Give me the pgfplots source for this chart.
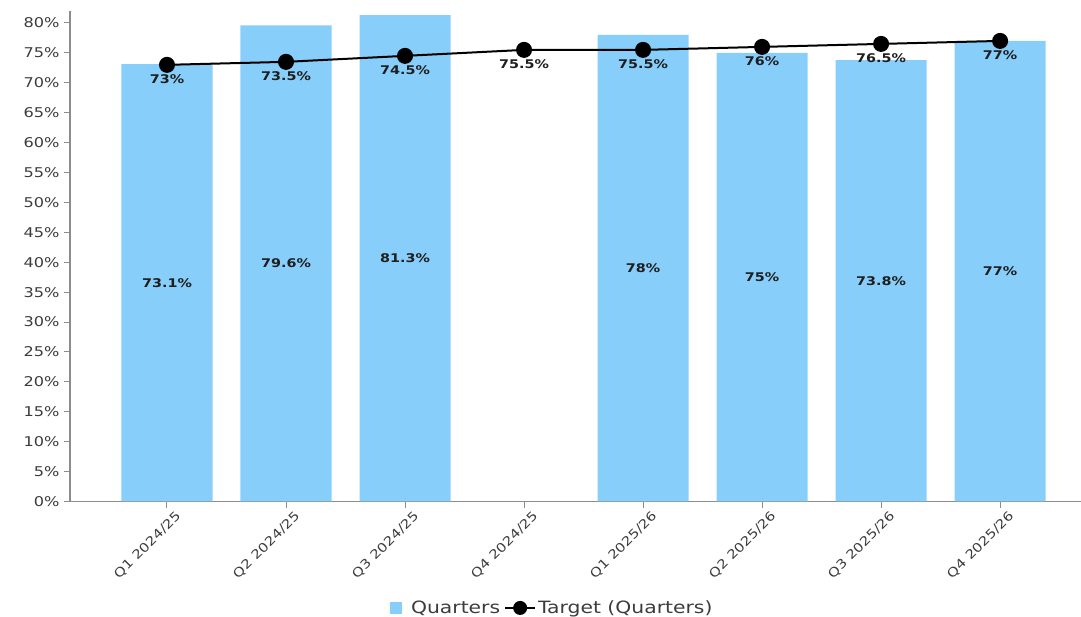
\documentclass[border=0pt]{standalone}
\usepackage{fontspec}
\setmainfont{DejaVu Sans}[FakeStretch=1.2]
\usepackage{pgfplots}
\pgfplotsset{compat=1.18}
\usepackage{pgfplotstable}
\definecolor{barblue}{HTML}{87CEFA}
\definecolor{axisgray}{HTML}{8C8C8C}
\definecolor{ticktext}{HTML}{3C3C3C}
\definecolor{labtext}{HTML}{1E1E1E}

\pgfplotstableread{
x bar half
0 73.1 36.55
1 79.6 39.8
2 81.3 40.65
4 78 39
5 75 37.5
6 73.8 36.9
7 77 38.5
}\bartable

\pgfplotstableread{
x target
0 73
1 73.5
2 74.5
3 75.5
4 75.5
5 76
6 76.5
7 77
}\targettable

\begin{document}
\begin{tikzpicture}
\path[use as bounding box] (0,0) rectangle (1081bp,617bp);
\begin{axis}[
  at={(70bp,115.5bp)}, anchor=south west,
  scale only axis, width=1011bp, height=490.5bp,
  xmin=-0.815, xmax=7.68, ymin=0, ymax=82,
  axis x line*=bottom, axis y line*=left,
  axis line style={draw=axisgray, line width=1.2bp},
  tick style={draw=axisgray, line width=1bp},
  tick align=outside,
  major tick length=6bp,
  /pgf/number format/assume math mode=true,
  ytick={0,5,...,80},
  yticklabel={\pgfmathprintnumber{\tick}\%},
  yticklabel style={font=\fontsize{13.5}{15}\selectfont, text=ticktext, xshift=-1bp},
  xtick={0,...,7},
  xticklabels={Q1 2024/25,Q2 2024/25,Q3 2024/25,Q4 2024/25,Q1 2025/26,Q2 2025/26,Q3 2025/26,Q4 2025/26},
  xticklabel style={font=\fontsize{12.5}{14}\selectfont, text=ticktext, rotate=45, anchor=north east, xshift=7bp, yshift=-4bp},
  legend style={at={(0.477,-0.217)}, anchor=center, draw=none, fill=none,
    legend columns=2, font=\fontsize{17}{19}\selectfont, text=ticktext,
    /tikz/every even column/.append style={column sep=2bp}},
  legend cell align=left,
]
\addplot[ybar, bar shift=0pt, bar width=0.765, fill=barblue, draw=none,
  legend image code/.code={\fill[barblue] (0bp,-6bp) rectangle (12bp,6bp); \path (19bp,0bp);}]
  table[x=x, y=bar]{\bartable};
\addlegendentry{Quarters}
\addplot[black, line width=2bp, mark=*, mark size=7bp,
  mark options={fill=black, draw=black},
  legend image code/.code={\draw[black, line width=2bp] (0bp,0bp) -- (30bp,0bp); \fill[black] (15bp,0bp) circle (6bp);},
  nodes near coords={\pgfmathprintnumber{\pgfplotspointmeta}\%},
  point meta=y,
  every node near coord/.append style={font=\bfseries\fontsize{12}{14}\selectfont, text=labtext, anchor=north, yshift=-8bp, inner sep=1bp}]
  table[x=x, y=target]{\targettable};
\addlegendentry{Target (Quarters)}
\addplot[only marks, mark=none, forget plot,
  nodes near coords={\pgfmathprintnumber{\pgfplotspointmeta}\%},
  point meta=\thisrow{bar},
  every node near coord/.append style={font=\bfseries\fontsize{12}{14}\selectfont, text=labtext, anchor=center, inner sep=0pt}]
  table[x=x, y=half]{\bartable};
\end{axis}
\end{tikzpicture}
\end{document}
